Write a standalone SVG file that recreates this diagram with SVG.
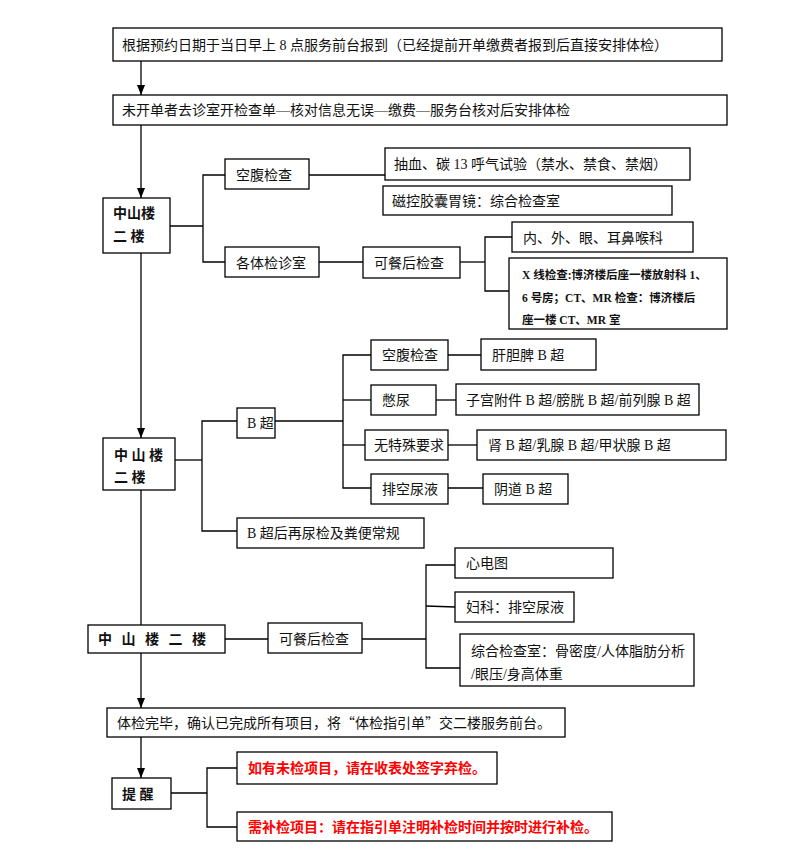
<svg xmlns="http://www.w3.org/2000/svg" width="791" height="866" viewBox="0 0 791 866">
<defs>
<marker id="ah" markerWidth="10" markerHeight="8" refX="10" refY="4" orient="auto" markerUnits="userSpaceOnUse" viewBox="0 0 10 8">
<path d="M0,0 L10,4 L0,8 Z" fill="#000"/>
</marker>
</defs>
<style>
rect{fill:#fff;stroke:#000;stroke-width:1.3}
.c line,.c polyline{stroke:#000;stroke-width:1.3;fill:none}
text{font-family:"Liberation Serif","Noto Sans CJK SC",serif;font-size:14px;fill:#111}
.b{font-weight:bold}
.s{font-size:11.5px;font-weight:bold}
.r{fill:#ff0000;font-weight:bold}
.q{font-family:"Noto Sans CJK SC",sans-serif}
</style>
<rect x="0" y="0" width="791" height="866" style="fill:#fff;stroke:none"/>
<g class="c" id="connectors">
<line x1="141" y1="61" x2="141" y2="95" marker-end="url(#ah)"/>
<line x1="141" y1="125" x2="141" y2="198" marker-end="url(#ah)"/>
<polyline points="170,226 203,226"/>
<polyline points="225,175 203,175 203,262 225,262"/>
<line x1="309" y1="175" x2="385" y2="175"/>
<line x1="319" y1="262" x2="363" y2="262"/>
<line x1="460" y1="262" x2="485" y2="262"/>
<polyline points="512,237 485,237 485,291 509,291"/>
<line x1="141" y1="253" x2="141" y2="438" marker-end="url(#ah)"/>
<line x1="175" y1="460" x2="202" y2="460"/>
<polyline points="237,421 202,421 202,531 237,531"/>
<line x1="275" y1="421" x2="343" y2="421"/>
<polyline points="371,355 343,355 343,488 371,488"/>
<line x1="343" y1="400" x2="371" y2="400"/>
<line x1="343" y1="445" x2="365" y2="445"/>
<line x1="448" y1="355" x2="481" y2="355"/>
<line x1="436" y1="400" x2="456" y2="400"/>
<line x1="448" y1="445" x2="477" y2="445"/>
<line x1="448" y1="488" x2="483" y2="488"/>
<line x1="141" y1="490" x2="141" y2="625"/>
<line x1="225" y1="639" x2="268" y2="639"/>
<line x1="362" y1="639" x2="426" y2="639"/>
<polyline points="455,565 426,565 426,668 460,668"/>
<line x1="426" y1="606" x2="455" y2="607"/>
<line x1="141" y1="653" x2="141" y2="708" marker-end="url(#ah)"/>
<line x1="141" y1="737" x2="141" y2="778" marker-end="url(#ah)"/>
<line x1="171" y1="793" x2="207" y2="793"/>
<polyline points="237,768 207,768 207,827 237,827"/>
</g>
<g id="n1"><rect x="113" y="28" width="609" height="33"/><text x="122" y="50">根据预约日期于当日早上 8 点服务前台报到（已经提前开单缴费者报到后直接安排体检）</text></g>
<g id="n2"><rect x="113" y="95" width="614" height="30"/><text x="122" y="115">未开单者去诊室开检查单—核对信息无误—缴费—服务台核对后安排体检</text></g>
<g id="n3"><rect x="103" y="198" width="67" height="55"/><text class="b" x="113" y="218">中山楼</text><text class="b" x="113" y="241">二 楼</text></g>
<g id="n4"><rect x="225" y="159" width="84" height="30"/><text x="236" y="180">空腹检查</text></g>
<g id="n5"><rect x="225" y="247" width="94" height="30"/><text x="236" y="268">各体检诊室</text></g>
<g id="n6"><rect x="385" y="148" width="305" height="32"/><text x="394" y="169">抽血、碳 13 呼气试验（禁水、禁食、禁烟）</text></g>
<g id="n7"><rect x="383" y="186" width="289" height="29"/><text x="392" y="206">磁控胶囊胃镜：综合检查室</text></g>
<g id="n8"><rect x="363" y="247" width="97" height="31"/><text x="374" y="268">可餐后检查</text></g>
<g id="n9"><rect x="512" y="222" width="181" height="30"/><text x="523" y="243">内、外、眼、耳鼻喉科</text></g>
<g id="n10"><rect x="509" y="258" width="218" height="71"/><text class="s" x="522" y="279">X 线检查:博济楼后座一楼放射科 1、</text><text class="s" x="522" y="302">6 号房；CT、MR 检查：博济楼后</text><text class="s" x="522" y="324">座一楼 CT、MR 室</text></g>
<g id="n11"><rect x="103" y="438" width="72" height="52"/><text class="b" x="114" y="460">中 山 楼</text><text class="b" x="114" y="482">二 楼</text></g>
<g id="n12"><rect x="237" y="408" width="38" height="30"/><text x="247" y="428">B 超</text></g>
<g id="n13"><rect x="237" y="518" width="187" height="30"/><text x="247" y="538">B 超后再尿检及粪便常规</text></g>
<g id="n14"><rect x="371" y="340" width="77" height="30"/><text x="382" y="360">空腹检查</text></g>
<g id="n15"><rect x="481" y="339" width="115" height="31"/><text x="492" y="360">肝胆脾 B 超</text></g>
<g id="n16"><rect x="371" y="385" width="65" height="30"/><text x="382" y="405">憋尿</text></g>
<g id="n17"><rect x="456" y="384" width="243" height="31"/><text x="466" y="405">子宫附件 B 超/膀胱 B 超/前列腺 B 超</text></g>
<g id="n18"><rect x="365" y="430" width="83" height="30"/><text x="374" y="450">无特殊要求</text></g>
<g id="n19"><rect x="477" y="430" width="249" height="30"/><text x="488" y="450">肾 B 超/乳腺 B 超/甲状腺 B 超</text></g>
<g id="n20"><rect x="371" y="474" width="77" height="30"/><text x="382" y="494">排空尿液</text></g>
<g id="n21"><rect x="483" y="474" width="85" height="30"/><text x="494" y="494">阴道 B 超</text></g>
<g id="n22"><rect x="88" y="625" width="137" height="28"/><text class="b" x="98" y="644" letter-spacing="3">中 山 楼 二 楼</text></g>
<g id="n23"><rect x="268" y="623" width="94" height="30"/><text x="279" y="644">可餐后检查</text></g>
<g id="n24"><rect x="455" y="548" width="158" height="30"/><text x="466" y="568">心电图</text></g>
<g id="n25"><rect x="455" y="592" width="119" height="30"/><text x="466" y="612">妇科：排空尿液</text></g>
<g id="n26"><rect x="460" y="634" width="234" height="52"/><text x="471" y="656">综合检查室：骨密度/人体脂肪分析</text><text x="471" y="679">/眼压/身高体重</text></g>
<g id="n27"><rect x="107" y="708" width="458" height="29"/><text x="117" y="728">体检完毕，确认已完成所有项目，将<tspan class="q">“</tspan>体检指引单<tspan class="q">”</tspan>交二楼服务前台。</text></g>
<g id="n28"><rect x="112" y="778" width="59" height="31"/><text class="b" x="122" y="799">提 醒</text></g>
<g id="n29"><rect x="237" y="752" width="260" height="32"/><text class="r" x="248" y="773">如有未检项目，请在收表处签字弃检。</text></g>
<g id="n30"><rect x="237" y="812" width="375" height="29"/><text class="r" x="248" y="832">需补检项目：请在指引单注明补检时间并按时进行补检。</text></g>
</svg>
